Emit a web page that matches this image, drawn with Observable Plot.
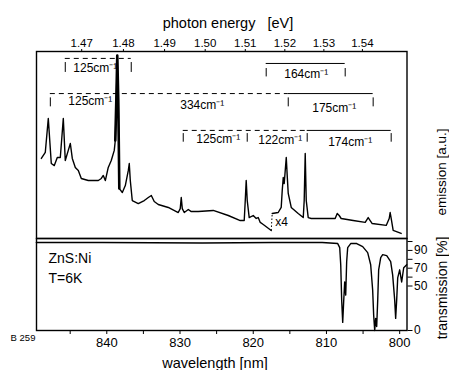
<!DOCTYPE html>
<html><head><meta charset="utf-8">
<script src="https://cdn.jsdelivr.net/npm/d3@7"></script>
<script src="https://cdn.jsdelivr.net/npm/@observablehq/plot@0.6"></script>
<style>
body{margin:0;background:#fff;}
#chart{position:relative;width:449px;height:370px;font-family:"Liberation Sans",Arial,sans-serif;color:#000;overflow:hidden;background:#fff}
#chart svg{position:absolute;left:0;overflow:visible;background:transparent}
.lab{position:absolute;white-space:pre;line-height:1}
</style></head><body><div id="chart"></div>
<script>
// ---------- data ----------
const energyTicks = [1.47, 1.48, 1.49, 1.50, 1.51, 1.52, 1.53, 1.54];        // eV
const wavelengthTicks = [845, 840, 835, 830, 825, 820, 815, 810, 805, 800]; // nm
const wavelengthLabelled = [840, 830, 820, 810, 800];
const transTicks = [0, 50, 60, 70, 80, 90, 100];
const transLabelled = [0, 50, 70, 90];

// emission spectrum (a.u.), left part (x1) and right part (x4)
const emisLeftNm = [848.94, 848.40, 847.99, 847.58, 847.17, 846.76, 846.35, 845.94, 845.67, 845.26, 844.98, 844.71, 844.30, 843.89, 843.48, 842.53, 841.16, 840.75, 840.48, 840.20, 839.80, 839.39, 838.98, 838.84, 838.70, 838.57, 838.43, 838.29, 837.88, 837.47, 837.06, 836.93, 836.79, 836.52, 835.70, 834.88, 834.33, 833.92, 833.52, 832.97, 831.60, 830.24, 829.97, 829.83, 829.69, 829.42, 828.87, 828.46, 827.51, 825.46, 823.41, 821.77, 821.23, 821.09, 820.96, 820.82, 820.55, 820.00, 819.59, 819.32, 819.04, 818.63, 817.54];
const emisLeftVal = [42.8, 46.0, 64.2, 40.1, 39.0, 43.3, 43.3, 64.2, 41.7, 47.1, 50.8, 42.8, 38.0, 36.4, 32.1, 31.0, 31.0, 32.1, 33.7, 31.0, 38.0, 41.7, 47.1, 52.4, 73.8, 97.9, 73.8, 26.7, 24.6, 28.3, 36.4, 40.1, 31.0, 20.3, 18.7, 20.3, 21.9, 23.0, 19.8, 18.2, 16.6, 13.9, 16.0, 21.9, 16.0, 13.9, 15.5, 14.4, 14.4, 15.0, 12.3, 9.6, 9.6, 20.3, 31.0, 20.3, 11.2, 12.3, 10.7, 11.2, 8.6, 7.5, 4.3];
const emisRightNm = [817.41, 816.59, 816.18, 816.04, 815.90, 815.77, 815.63, 815.49, 815.36, 815.22, 814.81, 813.86, 813.17, 813.04, 812.90, 812.76, 812.49, 812.08, 810.44, 808.81, 808.53, 808.26, 807.99, 806.35, 804.71, 804.30, 804.03, 803.75, 801.84, 801.43, 801.30, 801.16, 800.89, 799.80];
const emisRightVal = [13.4, 13.9, 16.6, 25.7, 32.6, 29.4, 36.4, 43.3, 33.7, 24.1, 16.6, 13.4, 11.2, 20.3, 45.5, 20.3, 11.2, 10.7, 10.7, 10.7, 13.4, 12.3, 10.7, 9.6, 8.6, 11.2, 9.6, 8.0, 7.0, 10.7, 13.9, 10.7, 4.3, 2.7];
// the strong zero-phonon line (drawn heavier, as in the original)
const mainLineNm = [838.84, 838.70, 838.57, 838.43, 838.29];
const mainLineVal = [52.4, 73.8, 97.9, 73.8, 26.7];

// transmission (%)
const transNm = [849.62, 840.61, 826.96, 817.41, 810.58, 808.46, 808.19, 808.05, 807.92, 807.78, 807.64, 807.51, 807.37, 807.24, 807.10, 806.69, 805.87, 805.05, 804.37, 803.96, 803.69, 803.55, 803.41, 803.28, 803.14, 803.00, 802.87, 802.59, 802.32, 801.77, 801.23, 800.96, 800.68, 800.55, 800.41, 800.27, 800.00, 799.73, 799.45, 799.04];
const transVal = [98.9, 98.9, 98.3, 98.9, 98.9, 97.7, 93.2, 73.9, 34.1, 9.1, 34.1, 54.5, 39.8, 77.3, 93.2, 97.7, 97.7, 94.3, 87.5, 73.9, 45.5, 17.0, 0, 13.6, 4.5, 34.1, 68.2, 81.8, 85.2, 84.1, 77.3, 62.5, 34.1, 13.6, 34.1, 59.1, 68.2, 54.5, 70.5, 73.9];

// phonon-replica brackets
const dashedStartNm = [845.67, 847.71, 829.56];
const dashedEndNm   = [836.66, 815.22, 812.63];
const dashedLevel   = [96.3, 77.5, 57.8];
const solidStartNm  = [818.23, 815.22, 812.63];
const solidEndNm    = [807.44, 803.62, 801.16];
const solidLevel    = [93.6, 77.5, 57.8];
const markNm     = [845.67, 836.66, 818.23, 807.44, 847.71, 815.22, 803.62, 829.56, 820.82, 812.63, 801.16];
const markTop    = [94.1, 94.1, 90.9, 90.9, 75.2, 75.2, 75.2, 56.1, 56.1, 56.1, 56.1];
const markBottom = [88.8, 88.8, 86.4, 86.4, 70.4, 70.4, 70.4, 51.5, 51.5, 51.5, 51.5];
const labelNm   = [841.57, 812.76, 842.25, 826.96, 808.94, 824.78, 816.31, 806.76];
const labelVal  = [91.2, 87.7, 73.3, 71.1, 69.5, 52.9, 52.4, 51.3];
const labelText = ["125cm⁻¹", "164cm⁻¹", "125cm⁻¹", "334cm⁻¹", "175cm⁻¹", "125cm⁻¹", "122cm⁻¹", "174cm⁻¹"];
const gainNm = [817.0], gainVal = [8.6], gainText = ["x4"];

// ---------- build ----------
const zip = (a, b) => a.map((d, i) => ({x: d, y: b[i]}));
const energyTickNm = energyTicks.map(e => 1239.84 / e);
const energyFmt = new Map(energyTickNm.map((d, i) => [d, energyTicks[i].toFixed(2)]));
const xDomain = [849.6, 799.0];
const font = '"Liberation Sans", Arial, sans-serif';
const chart = document.getElementById("chart");

const topPlot = Plot.plot({
  width: 449, height: 238, marginTop: 51, marginBottom: 0, marginLeft: 36, marginRight: 42.5,
  style: {fontFamily: font, color: "black", background: "transparent"},
  x: {domain: xDomain},
  y: {domain: [0, 100], axis: null},
  marks: [
    Plot.frame({stroke: "black", strokeWidth: 1.4}),
    Plot.axisX({anchor: "top", ticks: energyTickNm, tickFormat: d => energyFmt.get(d), tickSize: 3, tickPadding: 2, fontSize: 11.5, label: null}),
    Plot.ruleY(dashedLevel.map((l, i) => ({x1: dashedStartNm[i], x2: dashedEndNm[i], y: l})), {x1: "x1", x2: "x2", y: "y", stroke: "black", strokeWidth: 1, strokeDasharray: "5,4"}),
    Plot.ruleY(solidLevel.map((l, i) => ({x1: solidStartNm[i], x2: solidEndNm[i], y: l})), {x1: "x1", x2: "x2", y: "y", stroke: "black", strokeWidth: 1}),
    Plot.ruleX(markNm.map((d, i) => ({x: d, y1: markBottom[i], y2: markTop[i]})), {x: "x", y1: "y1", y2: "y2", stroke: "black", strokeWidth: 1}),
    Plot.text(labelText.map((t, i) => ({x: labelNm[i], y: labelVal[i], t})), {x: "x", y: "y", text: "t", fontSize: 12, fill: "black"}),
    Plot.line(zip(emisLeftNm, emisLeftVal), {x: "x", y: "y", stroke: "black", strokeWidth: 1.4, curve: "linear"}),
    Plot.line(zip(mainLineNm, mainLineVal), {x: "x", y: "y", stroke: "black", strokeWidth: 2.6, curve: "linear"}),
    Plot.line(zip(emisRightNm, emisRightVal), {x: "x", y: "y", stroke: "black", strokeWidth: 1.4, curve: "linear"}),
    Plot.link([0], {x1: () => emisLeftNm[emisLeftNm.length - 1], y1: () => emisLeftVal[emisLeftVal.length - 1], x2: () => emisRightNm[0], y2: () => emisRightVal[0], stroke: "black", strokeWidth: 1, strokeDasharray: "1.5,2"}),
    Plot.text(gainText.map((t, i) => ({x: gainNm[i], y: gainVal[i], t})), {x: "x", y: "y", text: "t", textAnchor: "start", fontSize: 12, fill: "black"})
  ]
});
topPlot.style.top = "0px";
chart.appendChild(topPlot);

const bottomPlot = Plot.plot({
  width: 449, height: 138, marginTop: 6, marginBottom: 40, marginLeft: 36, marginRight: 42.5,
  style: {fontFamily: font, color: "black", background: "transparent"},
  x: {domain: xDomain},
  y: {domain: [0, 103.4]},
  marks: [
    Plot.frame({stroke: "black", strokeWidth: 1.4}),
    Plot.axisX({anchor: "bottom", ticks: wavelengthTicks, tickFormat: d => wavelengthLabelled.includes(d) ? String(d) : "", tickSize: 4, tickPadding: 3, fontSize: 13, label: null}),
    Plot.axisY({anchor: "right", ticks: transTicks, tickFormat: d => transLabelled.includes(d) ? String(d) : "", tickSize: 5, tickPadding: 2, fontSize: 12, label: null}),
    Plot.line(zip(transNm, transVal), {x: "x", y: "y", stroke: "black", strokeWidth: 1.4}),
    Plot.text(["ZnS:Ni"], {frameAnchor: "top-left", text: d => d, dx: 12, dy: 20, lineAnchor: "middle", fontSize: 14, fill: "black"}),
    Plot.text(["T=6K"], {frameAnchor: "top-left", text: d => d, dx: 12, dy: 40, lineAnchor: "middle", fontSize: 14, fill: "black"})
  ]
});
bottomPlot.style.top = "232px";
chart.appendChild(bottomPlot);

// titles
function label(text, cx, cy, size, rotate) {
  const d = document.createElement("div");
  d.className = "lab";
  d.textContent = text;
  d.style.fontSize = size + "px";
  d.style.left = cx + "px";
  d.style.top = cy + "px";
  d.style.transform = "translate(-50%,-50%)" + (rotate ? " rotate(-90deg)" : "");
  chart.appendChild(d);
}
label("photon energy   [eV]", 228, 23, 14.5, false);
label("wavelength [nm]", 215, 363, 14.5, false);
label("emission [a.u.]", 442, 172, 13.5, true);
label("transmission [%]", 442, 288, 14, true);
label("B 259", 23, 338, 9.5, false);
</script></body></html>
